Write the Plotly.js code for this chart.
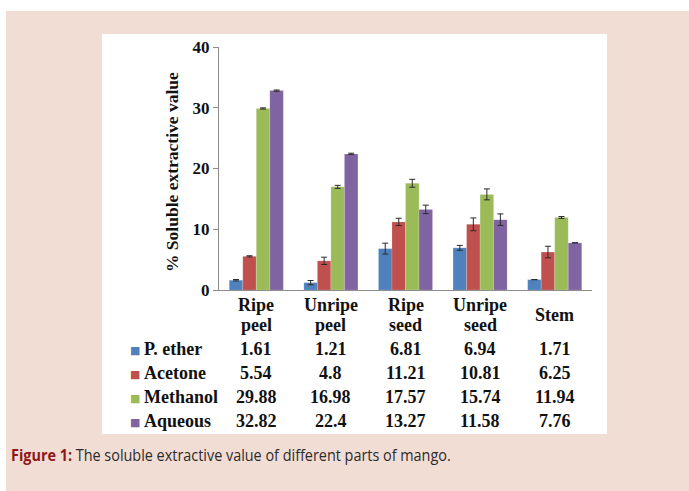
<!DOCTYPE html>
<html>
<head>
<meta charset="utf-8">
<script src="https://cdn.plot.ly/plotly-3.0.1.min.js"></script>
<style>
html,body{margin:0;padding:0;background:#ffffff;width:689px;height:491px;overflow:hidden;}
#bg{position:absolute;left:6px;top:11px;width:683px;height:480px;background:#f2ddd5;}
#card{position:absolute;left:102px;top:34px;width:505px;height:400px;background:#ffffff;}
#chart{position:absolute;left:0;top:0;width:689px;height:491px;}
#caption{position:absolute;left:11px;top:443px;white-space:nowrap;font-family:"Open Sans",sans-serif;font-size:16px;line-height:24px;color:#2b2b2b;transform:scaleX(0.9);transform-origin:0 50%;}
#caption b{color:#8e1616;}
</style>
</head>
<body>
<div id="bg"></div>
<div id="card"></div>
<div id="chart"></div>
<div id="caption"></div>
<script>
// ---- data ----
const categories = ["Ripe peel", "Unripe peel", "Ripe seed", "Unripe seed", "Stem"];
const headerLine1 = ["Ripe", "Unripe", "Ripe", "Unripe", "Stem"];
const headerLine2 = ["peel", "peel", "seed", "seed", ""];
const seriesNames = ["P. ether", "Acetone", "Methanol", "Aqueous"];
const pEther   = [1.61, 1.21, 6.81, 6.94, 1.71];
const acetone  = [5.54, 4.8, 11.21, 10.81, 6.25];
const methanol = [29.88, 16.98, 17.57, 15.74, 11.94];
const aqueous  = [32.82, 22.4, 13.27, 11.58, 7.76];
const pEtherErr   = [0.12, 0.35, 0.9, 0.4, 0.0];
const acetoneErr  = [0.1, 0.6, 0.6, 1.05, 0.95];
const methanolErr = [0.1, 0.25, 0.65, 0.9, 0.15];
const aqueousErr  = [0.1, 0.12, 0.7, 0.95, 0.0];
const yTickVals = [0, 10, 20, 30, 40];
const yTitle = "% Soluble extractive value";
const captionLead = "Figure 1:";
const captionText = " The soluble extractive value of different parts of mango.";

// ---- styling ----
const colors = ["#4f81bd", "#c0504d", "#9bbb59", "#8064a2"];
const values = [pEther, acetone, methanol, aqueous];
const errors = [pEtherErr, acetoneErr, methanolErr, aqueousErr];
const serif = "Liberation Serif, Times New Roman, serif";

// caption (real text)
const cap = document.getElementById("caption");
const capB = document.createElement("b");
capB.textContent = captionLead;
cap.appendChild(capB);
cap.appendChild(document.createTextNode(captionText));

// plot area in pixels
const L = 219, R = 592, T = 47, B = 290;
const W = 689, H = 491;
const px = x => (x - L) / (R - L);
const py = y => (B - y) / (B - T);

const traces = values.map((v, i) => ({
  type: "bar",
  name: seriesNames[i],
  x: categories,
  y: v,
  marker: {color: colors[i], line: {color: "rgba(255,255,255,0.35)", width: 0.5}},
  error_y: {type: "data", array: errors[i], visible: true, color: "#2a2a2a", thickness: 1, width: 3},
  hoverinfo: "x+y+name"
}));

const ann = [];
const tableFont = {family: serif, size: 18, color: "#111111", weight: "bold"};
categories.forEach((c, j) => {
  if (headerLine2[j]) {
    ann.push({xref: "x", yref: "paper", x: c, y: py(305), text: headerLine1[j], showarrow: false, font: tableFont, xanchor: "center", yanchor: "middle"});
    ann.push({xref: "x", yref: "paper", x: c, y: py(324.5), text: headerLine2[j], showarrow: false, font: tableFont, xanchor: "center", yanchor: "middle"});
  } else {
    ann.push({xref: "x", yref: "paper", x: c, y: py(314.5), text: headerLine1[j], showarrow: false, font: tableFont, xanchor: "center", yanchor: "middle"});
  }
});
const rowY = [349, 373, 397, 421];
seriesNames.forEach((n, i) => {
  ann.push({xref: "paper", yref: "paper", x: px(127.5), y: py(rowY[i] + 1), text: "■", showarrow: false,
    font: {family: "DejaVu Sans", size: 11, color: colors[i]}, xanchor: "left", yanchor: "middle"});
  ann.push({xref: "paper", yref: "paper", x: px(142), y: py(rowY[i]), text: n, showarrow: false,
    font: tableFont, xanchor: "left", yanchor: "middle"});
  values[i].forEach((v, j) => {
    ann.push({xref: "x", yref: "paper", x: categories[j], y: py(rowY[i]), text: String(v), showarrow: false,
      font: tableFont, xanchor: "center", yanchor: "middle"});
  });
});
// y-axis title
ann.push({xref: "paper", yref: "paper", x: px(172), y: py(172), text: yTitle, textangle: -90, showarrow: false,
  font: {family: serif, size: 17.5, color: "#111111", weight: "bold"}, xanchor: "center", yanchor: "middle"});

const layout = {
  width: W, height: H,
  margin: {l: L, r: W - R, t: T, b: H - B, pad: 0},
  paper_bgcolor: "rgba(0,0,0,0)",
  plot_bgcolor: "rgba(0,0,0,0)",
  barmode: "group",
  bargap: 0.275,
  bargroupgap: 0,
  showlegend: false,
  xaxis: {type: "category", showticklabels: false, showline: true, linecolor: "#8c8c8c", linewidth: 1,
    ticks: "", showgrid: false, zeroline: false, fixedrange: true},
  yaxis: {range: [0, 40], tickvals: yTickVals, ticks: "outside", ticklen: 5, tickcolor: "#8c8c8c",
    showline: true, linecolor: "#8c8c8c", linewidth: 1, showgrid: false, zeroline: false,
    tickfont: {family: serif, size: 17, color: "#111111", weight: "bold"}, ticklabelstandoff: 0, fixedrange: true},
  annotations: ann,
  font: {family: serif}
};

Plotly.newPlot("chart", traces, layout, {displayModeBar: false, staticPlot: true});
</script>
</body>
</html>
